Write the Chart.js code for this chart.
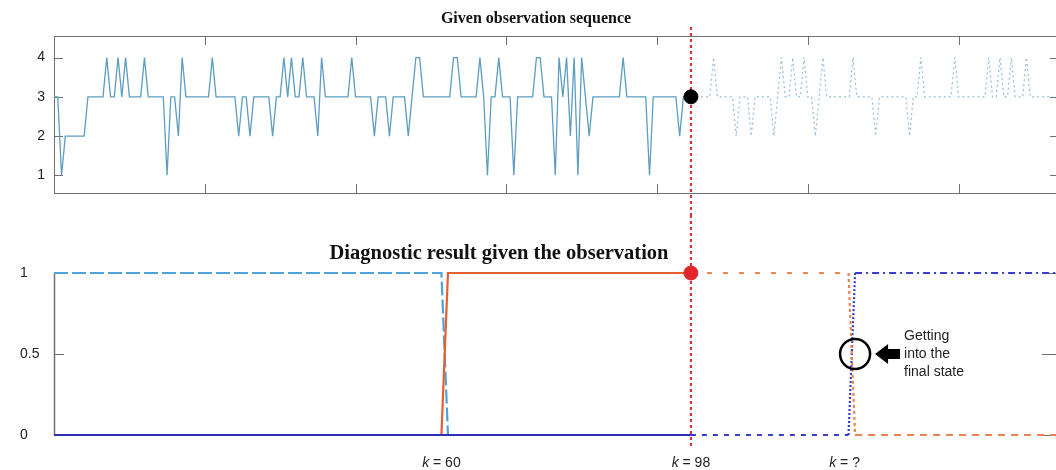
<!DOCTYPE html>
<html><head><meta charset="utf-8">
<script src="https://cdn.jsdelivr.net/npm/chart.js@4.4.1/dist/chart.umd.min.js"></script>
<style>
html,body{margin:0;padding:0;background:#fff;overflow:hidden;}
#wrap{position:relative;width:1056px;height:470px;}
#c1{position:absolute;left:0;top:0;}
#c2{position:absolute;left:0;top:215px;}
</style></head><body>
<div id="wrap"><canvas id="c1" width="1056" height="215"></canvas><canvas id="c2" width="1056" height="255"></canvas></div>
<script>
// ---------- top panel: observation sequence ----------
const topTitle = 'Given observation sequence';
const obsSolid = [3,3,1,2,2,2,2,2,2,3, 3,3,3,3,4,3,3,4,3,4, 3,3,3,3,4,3,3,3,3,3,
 1,3,3,2,4,3,3,3,3,3, 3,3,4,3,3,3,3,3,3,2, 3,3,2,3,3,3,3,3,2,3,
 3,4,3,4,3,3,4,3,3,3, 2,4,3,3,3,3,3,3,3,4, 3,3,3,3,3,2,3,3,3,2,
 3,3,3,3,2,3,4,4,3,3, 3,3,3,3,3,3,4,4,3,3, 3,3,3,4,3,1,3,3,4,3,
 3,3,1,3,3,3,3,3,4,4, 3,3,3,1,4,3,4,2,4,1, 4,3,2,3,3,3,3,3,3,3,
 3,4,3,3,3,3,3,3,1,3, 3,3,3,3,3,3,2,3,3,3];
const obsPred = [3,3,3,3,3,3,4,3,3,3, 3,3,2,3,3,3,2,3,3,3, 3,3,2,3,4,3,3,4,3,3,
 4,3,3,2,3,4,3,3,3,3, 3,3,3,4,3,3,3,3,3,2, 3,3,3,3,3,3,3,3,2,3,
 3,4,3,3,3,3,3,3,3,3, 4,3,3,3,3,3,3,3,3,4, 3,3,4,3,3,4,3,3,3,4,
 3,3,3,3,3,3,3];
const splitIndex = 169;
const topXTicks = [40, 80, 120, 160, 200, 240];
const topYTicks = [1, 2, 3, 4];

// ---------- bottom panel: diagnostic result ----------
const bottomTitle = 'Diagnostic result given the observation';
const splitK = 98;
const state1K = [1, 60, 61, 98];   const state1V = [1, 1, 0, 0];
const state2K = [1, 60, 61, 98];   const state2V = [0, 0, 1, 1];
const state3K = [1, 98];           const state3V = [0, 0];
const pred2K  = [98, 122, 123, 154]; const pred2V = [1, 1, 0, 0];
const pred3K  = [98, 122, 123, 154]; const pred3V = [0, 0, 1, 1];
const bottomYTicks = [0, 0.5, 1];
const kMarks = [{k: 60, text: '60'}, {k: 98, text: '98'}, {k: 121.4, text: '?'}];
const finalK = 123, finalY = 0.5;
const noteLines = ['Getting', 'into the', 'final state'];

const frameColor = '#707070';
const redLine = '#d8343b';

function pts(ks, vs) { return ks.map((k, i) => ({x: k, y: vs[i]})); }

function drawRedLine(ctx, x, y0, y1) {
  ctx.save();
  ctx.strokeStyle = redLine; ctx.lineWidth = 2.2; ctx.setLineDash([3, 3]);
  ctx.beginPath(); ctx.moveTo(x, y0); ctx.lineTo(x, y1); ctx.stroke();
  ctx.restore();
}

const topDecor = {
  id: 'topDecor',
  beforeDatasetsDraw(chart) {
    const {ctx, chartArea: a, scales: {x, y}} = chart;
    ctx.save();
    ctx.strokeStyle = frameColor; ctx.lineWidth = 1;
    ctx.strokeRect(a.left + 0.5, a.top + 0.5, a.right - a.left, a.bottom - a.top);
    ctx.beginPath();
    topXTicks.forEach(v => {
      const px = Math.round(x.getPixelForValue(v)) + 0.5;
      ctx.moveTo(px, a.top); ctx.lineTo(px, a.top + 9);
      ctx.moveTo(px, a.bottom); ctx.lineTo(px, a.bottom - 9);
    });
    topYTicks.forEach(v => {
      const py = Math.round(y.getPixelForValue(v)) + 0.5;
      ctx.moveTo(a.left, py); ctx.lineTo(a.left + 9, py);
      ctx.moveTo(a.right, py); ctx.lineTo(a.right - 6, py);
    });
    ctx.stroke();
    ctx.fillStyle = '#111'; ctx.font = 'bold 16px "Liberation Serif"';
    ctx.textAlign = 'center'; ctx.textBaseline = 'middle';
    ctx.fillText(topTitle, 536, 19);
    ctx.restore();
  },
  beforeDatasetDraw(chart, args) {
    if (args.index !== 0) return;
    drawRedLine(chart.ctx, chart.scales.x.getPixelForValue(splitIndex), 27, chart.height);
  }
};

new Chart(document.getElementById('c1'), {
  type: 'line',
  data: {datasets: [
    {data: [{x: splitIndex, y: obsSolid[splitIndex]}], showLine: false, pointRadius: 7, pointHoverRadius: 7,
     pointBackgroundColor: '#000', pointBorderColor: '#000', order: 0, clip: false},
    {data: obsSolid.map((v, i) => ({x: i, y: v})), borderColor: '#5d9dc0', borderWidth: 1.3,
     pointRadius: 0, tension: 0, order: 1, clip: false},
    {data: obsPred.map((v, i) => ({x: splitIndex + i, y: v})), borderColor: 'rgba(120,172,210,0.8)',
     borderWidth: 1.2, borderDash: [2, 3], pointRadius: 0, tension: 0, order: 2, clip: false}
  ]},
  options: {
    responsive: false, animation: false, devicePixelRatio: 1,
    layout: {autoPadding: false, padding: {left: 0, right: 0, top: 36, bottom: 22}},
    plugins: {legend: {display: false}, tooltip: {enabled: false}},
    scales: {
      x: {type: 'linear', display: false, min: 0, max: 265.85},
      y: {min: 0.55, max: 4.55,
          afterFit(s) { s.width = 54; },
          afterBuildTicks(s) { s.ticks = topYTicks.map(v => ({value: v})); },
          grid: {display: false, drawTicks: false}, border: {display: false},
          ticks: {padding: 9, color: '#222', font: {family: 'Liberation Sans', size: 14},
                  callback: v => String(v)}}
    }
  },
  plugins: [topDecor]
});

function drawKLabel(ctx, cx, cy, rest) {
  const fi = 'italic 14px "Liberation Sans"', fn = '14px "Liberation Sans"';
  ctx.font = fi; const wk = ctx.measureText('k').width;
  ctx.font = fn; const wr = ctx.measureText(' = ' + rest).width;
  let x0 = cx - (wk + wr) / 2;
  ctx.textAlign = 'left'; ctx.textBaseline = 'middle';
  ctx.font = fi; ctx.fillText('k', x0, cy);
  ctx.font = fn; ctx.fillText(' = ' + rest, x0 + wk, cy);
}

const bottomDecor = {
  id: 'bottomDecor',
  beforeDatasetsDraw(chart) {
    const {ctx, chartArea: a, scales: {x, y}} = chart;
    ctx.save();
    ctx.strokeStyle = frameColor; ctx.lineWidth = 1.5;
    ctx.beginPath(); ctx.moveTo(a.left + 0.5, a.top); ctx.lineTo(a.left + 0.5, a.bottom); ctx.stroke();
    ctx.lineWidth = 1;
    ctx.beginPath();
    bottomYTicks.forEach(v => {
      const py = Math.round(y.getPixelForValue(v)) + 0.5;
      ctx.moveTo(a.left, py); ctx.lineTo(a.left + 10, py);
      ctx.moveTo(a.right, py); ctx.lineTo(a.right - 14, py);
    });
    ctx.stroke();
    ctx.fillStyle = '#111'; ctx.font = 'bold 20.5px "Liberation Serif"';
    ctx.textAlign = 'center'; ctx.textBaseline = 'middle';
    ctx.fillText(bottomTitle, 499, 39);
    ctx.fillStyle = '#222';
    kMarks.forEach(m => drawKLabel(ctx, x.getPixelForValue(m.k), a.bottom + 28, m.text));
    ctx.restore();
  },
  beforeDatasetDraw(chart, args) {
    if (args.index !== 0) return;
    drawRedLine(chart.ctx, chart.scales.x.getPixelForValue(splitK), 0, 232);
  },
  afterDatasetsDraw(chart) {
    const {ctx, scales: {x, y}} = chart;
    const cx = x.getPixelForValue(finalK), cy = y.getPixelForValue(finalY);
    ctx.save();
    ctx.strokeStyle = '#000'; ctx.lineWidth = 2.5;
    ctx.beginPath(); ctx.arc(cx, cy, 15, 0, Math.PI * 2); ctx.stroke();
    // arrow pointing left
    const tip = cx + 20;
    ctx.fillStyle = '#000';
    ctx.beginPath();
    ctx.moveTo(tip, cy); ctx.lineTo(tip + 13, cy - 10); ctx.lineTo(tip + 13, cy - 5);
    ctx.lineTo(tip + 25, cy - 5); ctx.lineTo(tip + 25, cy + 5); ctx.lineTo(tip + 13, cy + 5);
    ctx.lineTo(tip + 13, cy + 10); ctx.closePath(); ctx.fill();
    ctx.fillStyle = '#222'; ctx.font = '14px "Liberation Sans"';
    ctx.textAlign = 'left'; ctx.textBaseline = 'middle';
    noteLines.forEach((t, i) => ctx.fillText(t, tip + 29, cy + (i - 1) * 18));
    ctx.restore();
  }
};

new Chart(document.getElementById('c2'), {
  type: 'line',
  data: {datasets: [
    {data: [{x: splitK, y: 1}], showLine: false, pointRadius: 7, pointHoverRadius: 7,
     pointBackgroundColor: '#e3262b', pointBorderColor: '#e3262b', order: 0, clip: false},
    {data: pts(state3K, state3V), borderColor: '#2f2fb5', borderWidth: 2.2, pointRadius: 0, order: 1, clip: false},
    {data: pts(state2K, state2V), borderColor: '#e4602f', borderWidth: 2.2, pointRadius: 0, order: 2, clip: false},
    {data: pts(state1K, state1V), borderColor: '#4fa3d8', borderWidth: 2.2, borderDash: [14, 4],
     pointRadius: 0, order: 3, clip: false},
    {data: pts(pred2K, pred2V), borderColor: '#e9834f', borderWidth: 2.2, pointRadius: 0, order: 4, clip: false,
     segment: {borderDash: c => c.p0.parsed.x >= 123 ? [7, 6] : (c.p0.parsed.x >= 122 ? [3, 3] : [5, 11])}},
    {data: pts(pred3K, pred3V), borderColor: '#3b3bcc', borderWidth: 2.2, pointRadius: 0, order: 5, clip: false,
     segment: {borderDash: c => c.p0.parsed.x >= 123 ? [7, 4, 2, 4] : (c.p0.parsed.x >= 122 ? [2, 2] : [5, 6])}}
  ]},
  options: {
    responsive: false, animation: false, devicePixelRatio: 1,
    layout: {autoPadding: false, padding: {left: 20, right: 0, top: 58, bottom: 35}},
    plugins: {legend: {display: false}, tooltip: {enabled: false}},
    scales: {
      x: {type: 'linear', display: false, min: 1, max: 153.6},
      y: {min: 0, max: 1,
          afterFit(s) { s.width = 34; },
          afterBuildTicks(s) { s.ticks = bottomYTicks.map(v => ({value: v})); },
          grid: {display: false, drawTicks: false}, border: {display: false},
          ticks: {crossAlign: 'far', padding: 0, color: '#222', font: {family: 'Liberation Sans', size: 14},
                  callback: v => String(v)}}
    }
  },
  plugins: [bottomDecor]
});
</script>
</body></html>
